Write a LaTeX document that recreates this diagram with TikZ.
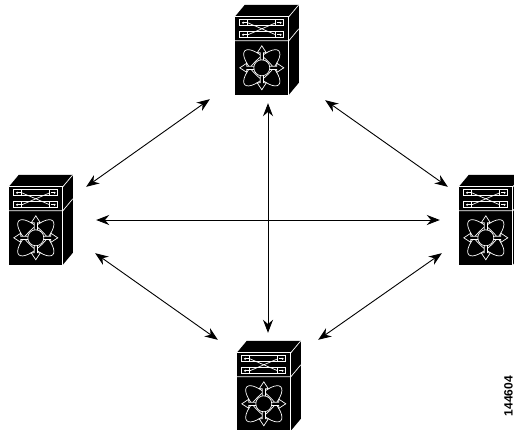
\documentclass[tikz,border=0pt]{standalone}
\usepackage{fontspec}
\newfontfamily\labelfont{Liberation Sans}
\usetikzlibrary{arrows.meta}

\tikzset{
	switch/.pic={
		% top and side faces
		\fill[black] (0,0) -- (10,-12) -- (64,-12) -- (54,0) -- cycle;
		\fill[black] (54,0) -- (64,-12) -- (64,66) -- (54,78) -- cycle;
		\draw[edge] (0,0) -- (54,0) -- (54,78);
		\draw[edge] (54,0) -- (64,-12);
		\draw[edge] (0,24) -- (54,24) -- (64,12);
		% crossbar panel
		\foreach \r in {3,15} {
			\draw[edge] (5,\r) rectangle (49,\r+6);
			\draw[edge] (13,\r) -- (13,\r+6);
			\draw[edge] (41,\r) -- (41,\r+6);
			\draw[edge, -{Stealth[length=2pt,width=2.5pt]}] (12,\r+3) -- (7,\r+3);
			\draw[edge, -{Stealth[length=2pt,width=2.5pt]}] (42,\r+3) -- (47,\r+3);
		}
		\draw[edge] (13,6) -- (41,18);
		\draw[edge] (13,18) -- (41,6);
		% fabric panel
		\draw[edge] (27,51) ellipse[x radius=24, y radius=9, rotate=45];
		\draw[edge] (27,51) ellipse[x radius=24, y radius=9, rotate=-45];
		\foreach \a in {0,90,180,270}
			\filldraw[edge, fill=black, shift={(27,51)}, rotate=\a]
				(7,-1.6) -- (15,-1.6) -- (15,-4.6) -- (22,0) -- (15,4.6) -- (15,1.6) -- (7,1.6);
		\filldraw[edge, fill=black] (27,51) circle[radius=8];
	}
}

\begin{document}
\begin{tikzpicture}[x=1pt, y=-1pt,
	edge/.style={white, line width=0.7pt},
	switchface/.style={fill=black, minimum width=54pt, minimum height=78pt, inner sep=0pt},
	link/.style={line width=0.9pt, {Stealth[length=13pt,width=10pt]}-{Stealth[length=13pt,width=10pt]}}]

	\useasboundingbox (0,0) rectangle (514,429);

	% Switches
	\node[switchface] (top) at (262,56) {};
	\node[switchface] (left) at (36,226) {};
	\node[switchface] (right) at (486,226) {};
	\node[switchface] (bottom) at (264,392) {};
	\pic at (top.north west) {switch};
	\pic at (left.north west) {switch};
	\pic at (right.north west) {switch};
	\pic at (bottom.north west) {switch};

	% Links between the switches
	\draw[link] ([shift={(-25,4)}]top.south west) -- ([shift={(23,0)}]left.north east);
	\draw[link] ([shift={(36,5)}]top.south east) -- ([shift={(-11,0)}]right.north west);
	\draw[link] ([shift={(33,-6)}]left.east) -- ([shift={(-19,-6)}]right.west);
	\draw[link] ([shift={(6,8)}]top.south) -- ([shift={(4,-20)}]bottom.north);
	\draw[link] ([shift={(32,-12)}]left.south east) -- ([shift={(-19,-13)}]bottom.north west);
	\draw[link] ([shift={(-17,-12)}]right.south west) -- ([shift={(27,-13)}]bottom.north east);

	% Figure number
	\node[rotate=90, anchor=south, inner sep=0pt, font=\labelfont\bfseries\fontsize{12}{12}\selectfont] (figid) at (513,396) {144604};

\end{tikzpicture}
\end{document}
